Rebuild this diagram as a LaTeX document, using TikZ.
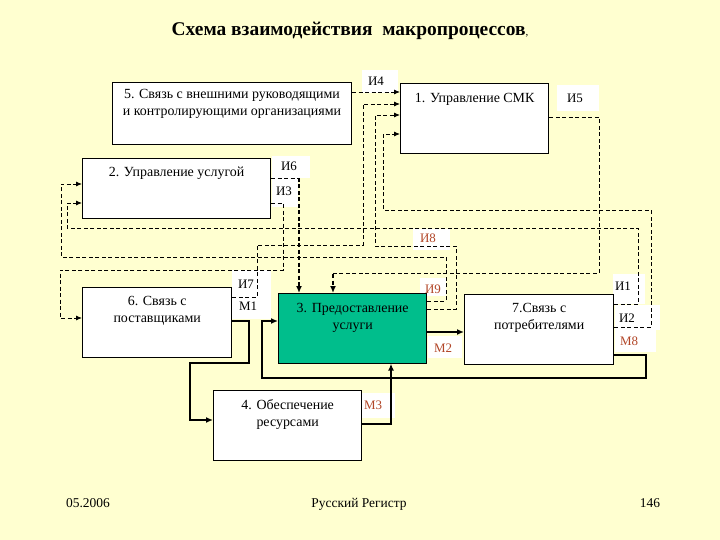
\documentclass[tikz,border=0pt]{standalone}
\usepackage{fontspec}
\setmainfont{Liberation Serif}
\usetikzlibrary{arrows.meta,calc}
\definecolor{bgyellow}{RGB}{255,255,208}
\definecolor{procgreen}{RGB}{0,190,140}
\definecolor{labred}{RGB}{178,70,40}
\tikzset{
  box/.style={draw=black, line width=0.9bp, fill=white, anchor=north west, inner sep=0pt},
  boxtext/.style={font=\fontsize{14}{17}\selectfont, align=center, anchor=north, inner sep=0pt},
  lab/.style={font=\fontsize{13}{15}\selectfont, inner sep=0pt},
  labr/.style={lab, text=labred},
  dline/.style={line width=0.9bp, dash pattern=on 4bp off 2.5bp, -{Latex[length=6bp,width=5bp]}},
  dthick/.style={line width=2bp, dash pattern=on 4bp off 2.5bp, -{Latex[length=7bp,width=6bp]}},
  sline/.style={line width=2.3bp, -{Latex[length=7bp,width=6bp]}},
  foot/.style={font=\fontsize{13.5}{15}\selectfont},
}
\begin{document}
\begin{tikzpicture}[x=1bp,y=-1bp]
\useasboundingbox (0,0) rectangle (720,540);
\fill[bgyellow] (0,0) rectangle (720,540);

% title
\node[font=\fontsize{19.5}{22}\bfseries\selectfont, anchor=base] (title) at (350,36) {Схема взаимодействия \ макропроцессов\textmd{\fontsize{11}{12}\selectfont,}};

% label backgrounds
\fill[white] (362,70) rectangle (398,93);
\fill[white] (557,85) rectangle (599,111);
\fill[white] (272,156) rectangle (310,178);
\fill[white] (272,178) rectangle (298,207);
\fill[white] (413,229) rectangle (450,250);
\fill[white] (420,278) rectangle (446,296);
\fill[white] (232,270) rectangle (271,319);
\fill[white] (613,274) rectangle (645,304);
\fill[white] (615,305) rectangle (660,330);
\fill[white] (615,330) rectangle (656,352);
\fill[white] (428,336) rectangle (462,358);
\fill[white] (362,393) rectangle (395,418);

% boxes
\node[box, minimum width=240, minimum height=62] (b5) at (112,82) {};
\node[box, minimum width=149, minimum height=70] (b1) at (400,83) {};
\node[box, minimum width=189, minimum height=60] (b2) at (82,158) {};
\node[box, minimum width=150, minimum height=70] (b6) at (82,287) {};
\node[box, minimum width=149, minimum height=70, fill=procgreen] (b3) at (278,293) {};
\node[box, minimum width=150, minimum height=70] (b7) at (464,294) {};
\node[box, minimum width=149, minimum height=70] (b4) at (213,390) {};

% box texts
\node[boxtext] (t5) at ($(b5.north)+(0,7.5)$) {5. Связь с внешними руководящими\\и контролирующими организациями};
\node[boxtext] (t1) at ($(b1.north)+(0,10.5)$) {1. Управление СМК};
\node[boxtext] (t2) at ($(b2.north)+(0,8.5)$) {2. Управление услугой};
\node[boxtext] (t6) at ($(b6.north)+(0,9.5)$) {6. Связь с\\поставщиками};
\node[boxtext] (t3) at ($(b3.north)+(0,10.5)$) {3. Предоставление\\услуги};
\node[boxtext] (t7) at ($(b7.north)+(0,9.5)$) {7.Связь с\\потребителями};
\node[boxtext] (t4) at ($(b4.north)+(0,9.5)$) {4. Обеспечение\\ресурсами};

% dashed information flows
\draw[dline] (b5.east |- 0,92) -- (b1.west |- 0,92);
\draw[dline] (b6.east |- 0,297) -- (257,297) -- (257,245) -- (363,245) -- (363,104) -- (b1.west |- 0,104);
\draw[dline] (b3.east |- 0,309) -- (456,309) -- (456,246) -- (375,246) -- (375,115) -- (b1.west |- 0,115);
\draw[dline] (b7.east |- 0,327) -- (651,327) -- (651,210) -- (383,210) -- (383,134) -- (b1.west |- 0,134);
\draw[line width=0.9bp, dash pattern=on 4bp off 2.5bp] (b1.east |- 0,117) -- (599,117) -- (599,273) -- (333,273) -- (333,275);
\draw[dthick] (333,274) -- (b3.north -| 333,0);
\draw[line width=0.9bp, dash pattern=on 4bp off 2.5bp] (b2.east |- 0,178) -- (299,178);
\draw[dthick] (299,178) -- (b3.north -| 299,0);
\draw[dline] (b2.east |- 0,203) -- (283,203) -- (283,270) -- (60,270) -- (60,318) -- (b6.west |- 0,318);
\draw[dline] (b3.east |- 0,301) -- (446,301) -- (446,257) -- (61,257) -- (61,184) -- (b2.west |- 0,184);
\draw[dline] (b7.east |- 0,304) -- (638,304) -- (638,228) -- (67,228) -- (67,203) -- (b2.west |- 0,203);

% solid material flows
\draw[sline] (b6.east |- 0,321) -- (249,321) -- (249,363) -- (190,363) -- (190,420) -- (b4.west |- 0,420);
\draw[sline] (b3.east |- 0,332) -- (b7.west |- 0,332);
\draw[sline] (b7.east |- 0,355) -- (646,355) -- (646,378) -- (262,378) -- (262,321) -- (b3.west |- 0,321);
\draw[sline] (b4.east |- 0,424) -- (391,424) -- (b3.south -| 391,0);

% labels
\node[lab] (li4) at (376,81) {И4};
\node[lab] (li5) at (575,98) {И5};
\node[lab] (li6) at (289,166) {И6};
\node[lab] (li3) at (284,191) {И3};
\node[labr] (li8) at (428,238) {И8};
\node[labr] (li9) at (433,289) {И9};
\node[lab] (li7) at (246,284) {И7};
\node[lab] (lm1) at (248,306) {М1};
\node[lab] (li1) at (623,286) {И1};
\node[lab] (li2) at (627,318) {И2};
\node[labr] (lm8) at (629,341) {М8};
\node[labr] (lm2) at (443,348) {М2};
\node[labr] (lm3) at (373,405) {М3};

% footer
\node[foot] (f1) at (88,503) {05.2006};
\node[foot] (f2) at (359,504) {Русский Регистр};
\node[foot] (f3) at (650,503) {146};
\end{tikzpicture}
\end{document}
